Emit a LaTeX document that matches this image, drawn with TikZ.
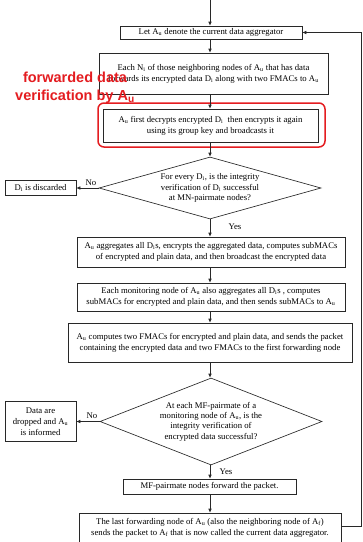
\documentclass[tikz,border=0pt]{standalone}
\usepackage{fontspec}
\setmainfont{Liberation Serif}
\newfontfamily\rsans{Liberation Sans}
\usetikzlibrary{arrows.meta,shapes.geometric}
\definecolor{redc}{RGB}{228,28,32}
\definecolor{linec}{RGB}{40,40,40}
\newcommand\sbs[1]{\textsubscript{#1}}
\tikzset{
  box/.style={draw=linec, line width=0.65pt, inner sep=0pt, align=center,
    font=\fontsize{8.7}{11}\selectfont},
  dia/.style={draw=linec, line width=0.65pt, diamond, inner sep=0pt},
  diatext/.style={align=center, inner sep=0pt, font=\fontsize{8.7}{10.3}\selectfont},
  lbl/.style={inner sep=0pt, font=\fontsize{8.7}{10}\selectfont},
  arr/.style={draw=linec, line width=0.65pt, -{Latex[length=4pt,width=3.6pt]}},
  redframe/.style={draw=redc, line width=1.5pt, rounded corners=6pt},
  redtext/.style={text=redc, align=center, inner sep=0pt,
    font=\rsans\bfseries\fontsize{14.5}{18}\selectfont}
}
\begin{document}
\begin{tikzpicture}[x=1pt,y=-1pt]
\useasboundingbox (0,0) rectangle (363,542);
\clip (0,0) rectangle (363,542);
\fill[white] (0,0) rectangle (363,542);
\coordinate (ax) at (210,0);
\coordinate (topc) at (210,-2);
\coordinate (lj) at (361,526);

\node[box, minimum width=182pt, minimum height=13pt] (let) at (211,32.5)
  {Let A\sbs{u} denote the current data aggregator};
\node[box, minimum width=229pt, minimum height=41pt] (each) at (213.5,73.5)
  {Each N\sbs{i} of those neighboring nodes of A\sbs{u} that has data\\
   forwards its encrypted data D\sbs{i} along with two FMACs to A\sbs{u}};
\node[redframe, minimum width=227pt, minimum height=44pt] (redbox) at (211.5,125) {};
\node[box, minimum width=215pt, minimum height=33pt] (inner) at (210.5,125.5)
  {A\sbs{u} first decrypts encrypted D\sbs{i}\ \ then encrypts it again\\
   using its group key and broadcasts it};
\node[dia, minimum width=222pt, minimum height=62pt] (d1) at (210,188) {};
\node[diatext] (d1t) at (210,188)
  {For every D\sbs{i}, is the integrity\\verification of D\sbs{i} successful\\at MN-pairmate nodes?};
\node[box, minimum width=71pt, minimum height=15pt] (disc) at (40.5,188)
  {D\sbs{i} is discarded};
\node[box, minimum width=268pt, minimum height=30pt] (agg) at (211,252)
  {A\sbs{u} aggregates all D\sbs{i}s, encrypts the aggregated data, computes subMACs\\
   of encrypted and plain data, and then broadcast the encrypted data};
\node[box, minimum width=268pt, minimum height=28pt] (mon) at (211,297)
  {Each monitoring node of A\sbs{u} also aggregates all D\sbs{i}s , computes\\
   subMACs for encrypted and plain data, and then sends subMACs to A\sbs{u}};
\node[box, minimum width=284pt, minimum height=39pt] (comp) at (210,342.5)
  {A\sbs{u} computes two FMACs for encrypted and plain data, and sends the packet\\
   containing the encrypted data and two FMACs to the first forwarding node};
\node[dia, minimum width=222pt, minimum height=87pt] (d2) at (211,421.5) {};
\node[diatext] (d2t) at (211,421.5)
  {At each MF-pairmate of a\\monitoring node of A\sbs{u}, is the\\integrity verification of\\encrypted data successful?};
\node[box, minimum width=71pt, minimum height=40pt] (drop) at (40.5,421.5)
  {Data are\\dropped and A\sbs{u}\\is informed};
\node[box, minimum width=173pt, minimum height=15pt] (mf) at (209.5,486.5)
  {MF-pairmate nodes forward the packet.};
\node[box, minimum width=262pt, minimum height=38pt] (last) at (210,532)
  {The last forwarding node of A\sbs{u} (also the neighboring node of A\sbs{f})\\
   sends the packet to A\sbs{f} that is now called the current data aggregator.\\ \mbox{}};

% connectors
\draw[arr] (topc) -- (let.north -| ax);
\draw[arr] (let.south -| ax) -- (each.north -| ax);
\draw[arr] (each.south -| ax) -- (inner.north -| ax);
\draw[arr] (inner.south -| ax) -- (d1.north -| ax);
\draw[arr] (d1.west) -- (disc.east);
\draw[arr] (d1.south -| ax) -- (agg.north -| ax);
\draw[arr] (agg.south -| ax) -- (mon.north -| ax);
\draw[arr] (mon.south -| ax) -- (comp.north -| ax);
\draw[arr] (comp.south -| ax) -- (d2.north -| ax);
\draw[arr] (d2.west) -- (drop.east);
\draw[arr] (d2.south -| ax) -- (mf.north -| ax);
\draw[arr] (mf.south -| ax) -- (last.north -| ax);
\draw[arr] (last.east |- lj) -- (lj) -- (let.east -| lj) -- (let.east);

% labels
\node[lbl] (no1) at (91,182.5) {No};
\node[lbl] (yes1) at (235,227) {Yes};
\node[lbl] (no2) at (92,416) {No};
\node[lbl] (yes2) at (226,472) {Yes};

% red annotation
\node[redtext] (note) at (75,88) {forwarded data\\verification by A\sbs{u}};
\end{tikzpicture}
\end{document}
